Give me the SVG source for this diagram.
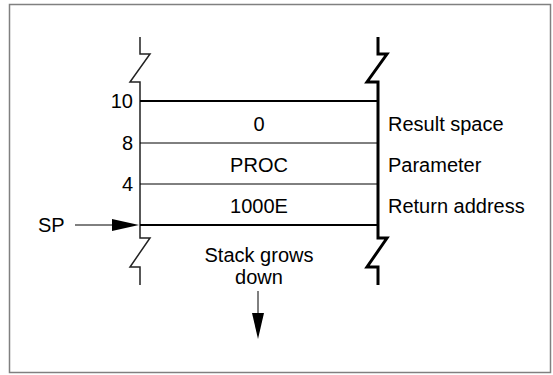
<svg xmlns="http://www.w3.org/2000/svg" width="553" height="375" viewBox="0 0 553 375">
<style>
text{font-family:"Liberation Sans",Arial,sans-serif;font-size:20px;fill:#000}
.c{text-anchor:middle}
.r{text-anchor:end}
.thin{stroke:#000;stroke-width:1;fill:none}
.wallL{stroke:#222;stroke-width:1.5;fill:none}
.thick{stroke:#000;stroke-width:2;fill:none}
.wall{stroke:#000;stroke-width:3;fill:none}
</style>
<rect x="9.5" y="4.5" width="541" height="368" fill="#fff" stroke="#808080" stroke-width="1.5"/>
<g id="left-wall">
<polyline class="wallL" points="140,37 140,54 150,54 130,82 140,82 140,238 150,238 130,267 140,267 140,285"/>
</g>
<g id="right-wall">
<polyline class="wall" points="378,37 378,54 387,54 367,82 378,82 378,238 387,238 367,267 378,267 378,285"/>
</g>
<g id="cell-result">
<line class="thick" x1="140" y1="101" x2="378" y2="101"/>
<text class="c" x="259" y="131">0</text>
<text x="388" y="131">Result space</text>
<text class="r" x="133" y="108">10</text>
</g>
<g id="cell-param">
<line class="thin" x1="140" y1="143" x2="378" y2="143"/>
<text class="c" x="259" y="172">PROC</text>
<text x="388" y="172">Parameter</text>
<text class="r" x="133" y="150">8</text>
</g>
<g id="cell-return">
<line class="thin" x1="140" y1="184" x2="378" y2="184"/>
<text class="c" x="259" y="213">1000E</text>
<text x="388" y="213">Return address</text>
<text class="r" x="133" y="191">4</text>
<line class="thick" x1="140" y1="225" x2="378" y2="225"/>
</g>
<g id="sp">
<text x="38" y="232">SP</text>
</g>
<g id="grows">
<text class="c" x="259" y="262">Stack grows</text>
<text class="c" x="259" y="284">down</text>
</g>
<g id="connectors">
<line class="thin" x1="75" y1="225" x2="114" y2="225"/>
<polygon points="112,219 139,225 112,231" fill="#000"/>
<line class="thin" x1="258" y1="291" x2="258" y2="315"/>
<polygon points="252,313 258,339 264,313" fill="#000"/>
</g>
</svg>
